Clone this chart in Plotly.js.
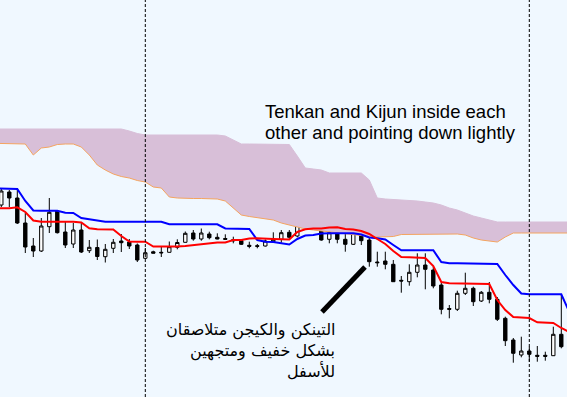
<!DOCTYPE html>
<html>
<head>
<meta charset="utf-8">
<script src="https://cdn.plot.ly/plotly-3.0.1.min.js"></script>
<style>html,body{margin:0;padding:0;background:#F0F8FF;}#chart{width:567px;height:397px;}</style>
</head>
<body>
<div id="chart"></div>
<script>
// Bar indices (candles 0..70), indicator indices (-1..71)
const candleIdx = [0,1,2,3,4,5,6,7,8,9,10,11,12,13,14,15,16,17,18,19,20,21,22,23,24,25,26,27,28,29,30,31,32,33,34,35,36,37,38,39,40,41,42,43,44,45,46,47,48,49,50,51,52,53,54,55,56,57,58,59,60,61,62,63,64,65,66,67,68,69,70];
const lineIdx = [-1,0,1,2,3,4,5,6,7,8,9,10,11,12,13,14,15,16,17,18,19,20,21,22,23,24,25,26,27,28,29,30,31,32,33,34,35,36,37,38,39,40,41,42,43,44,45,46,47,48,49,50,51,52,53,54,55,56,57,58,59,60,61,62,63,64,65,66,67,68,69,70,71];

const openP = [
195,208,202,177,154,149,173.3,189,168,156,
170,149.3,152.5,143.3,151.7,159,158,155,141.7,148.2,
147.7,147.7,152.7,157.7,167,161,166,162.7,161.5,160.3,
159.3,154.7,154.3,154,158.3,160.7,167.7,164,174.3,184,
170,160.7,167.7,160.7,155.7,170.7,160,138,139,135.7,
119.7,118.3,127.7,135,130,115,91.5,90.7,106.7,111.7,
99,107.7,100.7,81.7,60,45,49,44.7,44.7,44.3,
65.7];
const highP = [
211,210,212,187,162,182,202,190,178,177,
178,160,160.5,156,161,166,161,156.5,152,149.3,
153,158.5,160.7,168.5,170,171.5,168.3,166.7,165.7,163.3,
160,158.3,156,160.5,167.7,170,170,182.3,190,190,
175,170.7,171.7,166.7,173.3,175.7,162,148.3,148.3,140,
124,135.7,146.7,146.7,133.3,117,95,109.3,127.3,113.3,
109,118,103,83.3,62,63.3,53.3,54,48.3,73.3,
105];
const lowP = [
193,193,176,147,143,148,167,166.5,152,152,
147,147,140,137.5,147,148,151,138,141,146.7,
143,147.5,150.7,157.5,159.3,159.3,160.7,160.7,160.5,156.7,
155,151.7,151.7,153.5,157.3,157.3,160,162.7,172.7,170.5,
159.3,156.7,156.7,148.3,155,155,133.3,133.3,130.7,118,
107.3,114.3,122.7,110.7,111.7,85.7,81.7,89,105,94,
98,96.7,79,54,37.3,42.7,38.3,38.3,39.3,44,
51.7];
const closeP = [
209,202,177,153,149,174,187.7,167.3,155,170,
148,152.7,143.5,150.7,157.7,157.3,154,140,147.3,146.8,
147.2,153.3,157.5,166.7,161,167,162.3,161,160.7,159.3,
155.7,153.7,153.7,159,160.7,167.3,162.7,175,184,170.7,
160,167.3,160.7,155.7,170.7,159.3,138.3,137.3,135.7,118.3,
119,127.7,135,130.7,114,90.7,90.7,106.7,111.7,98.3,
107.7,100.7,80.7,59.3,46.7,49,45.7,43.7,43.7,65.7,
53.3];

const tenkan = [
191.7,191.7,191.7,192.7,188,179.5,178.3,178.3,178.3,178.3,
178.3,177.5,171.7,170.7,170.7,170.5,164,158.5,158.3,158.3,
153.5,153.3,153.3,153.5,154,155,156,157,157.5,157.5,
160,160,161.5,161.7,161.7,161,160.7,160.5,168,170.7,
171.5,171.5,172.5,172.7,171,170.5,169,166,161,156,
149,143,142.7,142.7,142,134,118,116.7,116.7,116.7,
116.7,116.7,116,100,90,83,82.7,82,77.7,77.5,
77,72,68];
const kijun = [
211.7,211.7,211.7,211,199,189.5,189.3,189.3,189.3,187.3,
187,182,181,180,178.3,178.3,178.3,178.3,178.3,178.3,
178.3,178.3,175.7,175.7,175.7,175.7,175.7,175.7,175.7,171.5,
171.5,171.5,171,160,158.3,158,157,155.5,161,164.5,
165,166.5,166.7,166.7,166.7,166.7,165.5,162.5,161.7,160.5,
155,149.7,149.7,149.7,149.7,149.7,138,136.7,136.7,136.7,
136.7,136.7,136.7,136,125,115,106.5,105.7,105.7,105.7,
105.7,105.7,88];
const senkouB = [
271,271,271,271,271,271,271,271,271,271,
271,271,271,271,271,271,271,269,266.5,265,
265,265,265,265,265,265,265,265,265,264,
260,256,256,256,256,256,256,255.5,244,232,
231,230,227,227,227,227,227,220,202,201,
200.5,200,200,199,198,197,195,192,190,187,
184,182,180,178,178,178,178,178,178,178,
178,178,178];
const senkouA = [
256.7,256.7,256.7,256.7,256,245,252,253,255.5,256,
256,253,245,235,230,226,223.5,222,219.5,218,
213,212,203,202,201.5,201.5,201.5,201.5,201,199,
192,185,183.5,182.5,181.5,180,177,175,173,171,
170,169,168,167,166,165,164.5,163.5,163,163,
163.5,165.5,165.5,166,166,166,166,166,166,165,
162,160,159,158,163,167,167,167,167,167,
167,167,167];

const markerBars = [18, 66];

const traces = [
  {type:'scatter', mode:'lines', x:lineIdx, y:senkouB, line:{color:'#D8BFD8', width:1}, hoverinfo:'skip'},
  {type:'scatter', mode:'lines', x:lineIdx, y:senkouA, fill:'tonexty', fillcolor:'#D8BFD8', line:{color:'#F4A460', width:1}, hoverinfo:'skip'},
  {type:'scatter', mode:'lines', x:lineIdx, y:kijun, line:{color:'#0000FF', width:2}, hoverinfo:'skip'},
  {type:'scatter', mode:'lines', x:lineIdx, y:tenkan, line:{color:'#FF0000', width:2}, hoverinfo:'skip'},
  {type:'candlestick', x:candleIdx, open:openP, high:highP, low:lowP, close:closeP,
   increasing:{line:{color:'#000000', width:1}, fillcolor:'#FFFFFF'},
   decreasing:{line:{color:'#000000', width:1}, fillcolor:'#000000'},
   whiskerwidth:0, hoverinfo:'skip'}
];

const W = 567, H = 397;
const shapes = markerBars.map(b => ({type:'line', xref:'x', yref:'paper', x0:b, x1:b, y0:0, y1:1,
  line:{color:'#000000', width:1, dash:'3px,2px'}}));
shapes.push({type:'line', xref:'paper', yref:'paper', x0:322/W, y0:1-312/H, x1:365/W, y1:1-267/H,
  line:{color:'#000000', width:5}});

const enFont = {family:'Arial, "Liberation Sans", sans-serif', size:18.5, color:'#000000'};
const arFont = {family:'"DejaVu Sans", sans-serif', size:16, color:'#000000'};
const annotations = [
  {xref:'paper', yref:'paper', x:263/W, y:1-111/H, xanchor:'left', yanchor:'middle', showarrow:false, text:'Tenkan and Kijun inside each', font:enFont},
  {xref:'paper', yref:'paper', x:263/W, y:1-132/H, xanchor:'left', yanchor:'middle', showarrow:false, text:'other and pointing down lightly', font:enFont},
  {xref:'paper', yref:'paper', x:337/W, y:1-330/H, xanchor:'right', yanchor:'middle', showarrow:false, text:'التينكن والكيجن متلاصقان', font:arFont},
  {xref:'paper', yref:'paper', x:337/W, y:1-351/H, xanchor:'right', yanchor:'middle', showarrow:false, text:'بشكل خفيف ومتجهين', font:arFont},
  {xref:'paper', yref:'paper', x:337/W, y:1-371/H, xanchor:'right', yanchor:'middle', showarrow:false, text:'للأسفل', font:arFont}
];

const layout = {
  width:W, height:H, margin:{l:0, r:0, t:0, b:0, pad:0},
  paper_bgcolor:'#F0F8FF', plot_bgcolor:'#F0F8FF',
  showlegend:false, boxgap:0.4,
  xaxis:{range:[-0.1625, 70.7125], visible:false, showgrid:false, zeroline:false, rangeslider:{visible:false}, fixedrange:true},
  yaxis:{range:[3, 400], visible:false, showgrid:false, zeroline:false, fixedrange:true},
  shapes:shapes, annotations:annotations
};

Plotly.newPlot('chart', traces, layout, {staticPlot:true, displayModeBar:false});
</script>
</body>
</html>
